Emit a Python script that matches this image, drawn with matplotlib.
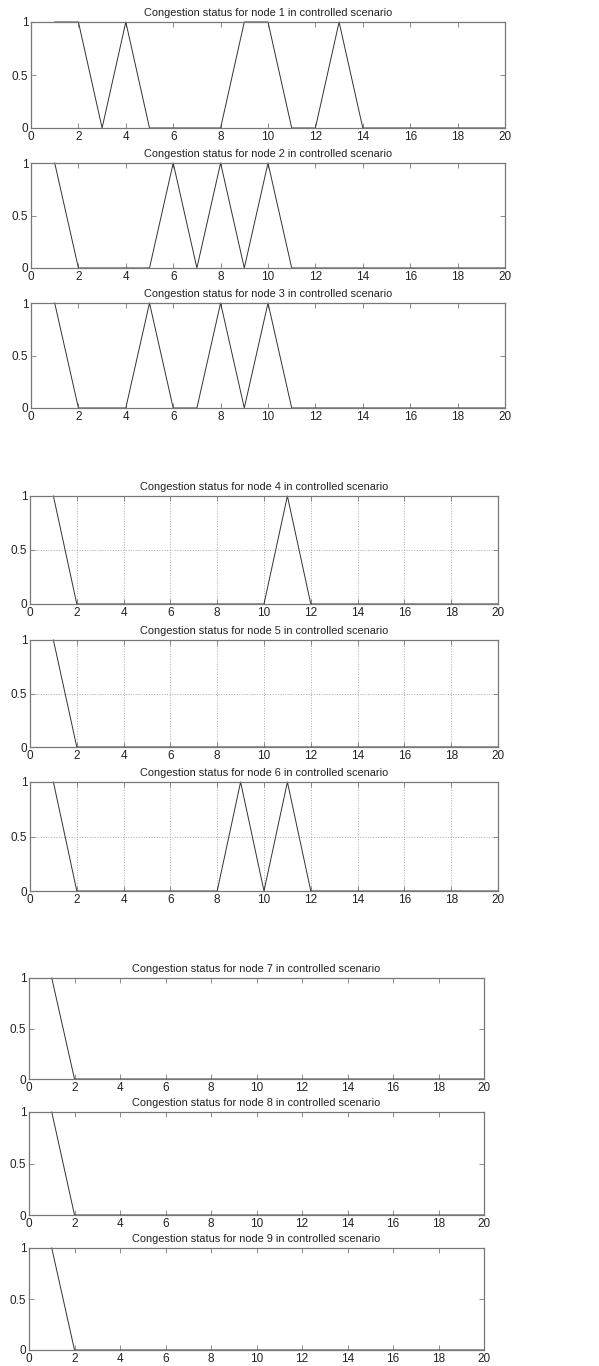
import matplotlib
matplotlib.use("Agg")
import matplotlib.pyplot as plt
import numpy as np

# time steps and congestion status (0/1) per node
steps = list(range(1, 21))
node1 = [1, 1, 0, 1, 0, 0, 0, 0, 1, 1, 0, 0, 1, 0, 0, 0, 0, 0, 0, 0]
node2 = [1, 0, 0, 0, 0, 1, 0, 1, 0, 1, 0, 0, 0, 0, 0, 0, 0, 0, 0, 0]
node3 = [1, 0, 0, 0, 1, 0, 0, 1, 0, 1, 0, 0, 0, 0, 0, 0, 0, 0, 0, 0]
node4 = [1, 0, 0, 0, 0, 0, 0, 0, 0, 0, 1, 0, 0, 0, 0, 0, 0, 0, 0, 0]
node5 = [1, 0, 0, 0, 0, 0, 0, 0, 0, 0, 0, 0, 0, 0, 0, 0, 0, 0, 0, 0]
node6 = [1, 0, 0, 0, 0, 0, 0, 0, 1, 0, 1, 0, 0, 0, 0, 0, 0, 0, 0, 0]
node7 = [1, 0, 0, 0, 0, 0, 0, 0, 0, 0, 0, 0, 0, 0, 0, 0, 0, 0, 0, 0]
node8 = [1, 0, 0, 0, 0, 0, 0, 0, 0, 0, 0, 0, 0, 0, 0, 0, 0, 0, 0, 0]
node9 = [1, 0, 0, 0, 0, 0, 0, 0, 0, 0, 0, 0, 0, 0, 0, 0, 0, 0, 0, 0]
nodes = [node1, node2, node3, node4, node5, node6, node7, node8, node9]

xticks = list(range(0, 21, 2))
yticks = [0, 0.5, 1]
ytick_labels = ["0", "0.5", "1"]

W, H = 599, 1366
plt.rcParams["font.family"] = ["Liberation Sans", "DejaVu Sans"]

# panel boxes in pixels: left, top, right, bottom
boxes = [
    (31, 22, 505, 128),
    (31, 163, 505, 268),
    (31, 303, 505, 408),
    (30, 496, 498, 604),
    (30, 640, 498, 747),
    (30, 782, 498, 891),
    (29, 978, 484, 1079),
    (29, 1112, 484, 1215),
    (29, 1248, 484, 1350),
]
gridded = [False, False, False, True, True, True, False, False, False]

fig = plt.figure(figsize=(W / 100, H / 100), dpi=100)
for i, (vals, (l, t, r, b)) in enumerate(zip(nodes, boxes)):
    ax = fig.add_axes([l / W, 1 - b / H, (r - l) / W, (b - t) / H])
    ax.plot(steps, vals, color="#333333", lw=0.7, clip_on=False)
    ax.set_xlim(0, 20)
    ax.set_ylim(0, 1)
    ax.set_xticks(xticks)
    ax.set_yticks(yticks)
    ax.set_yticklabels(ytick_labels)
    ax.tick_params(direction="in", top=True, right=True, length=3.5, width=0.6,
                   color="#777777", labelsize=8.5, pad=2, labelcolor="#222222")
    ax.tick_params(axis="x", pad=2.5)
    for sp in ax.spines.values():
        sp.set_color("#777777")
        sp.set_linewidth(0.9)
    if gridded[i]:
        ax.grid(True, linestyle=":", color="#aaaaaa", lw=0.7)
    ax.set_title(f"Congestion status for node {i + 1} in controlled scenario",
                 fontsize=7.9, pad=4, color="#222222")

fig.savefig("out.png", dpi=100)
